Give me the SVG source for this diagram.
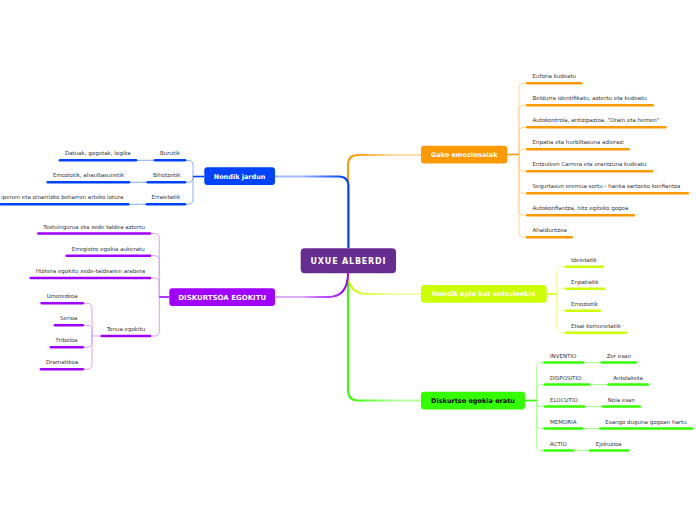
<svg xmlns="http://www.w3.org/2000/svg" width="696" height="520" viewBox="0 0 696 520">
<defs>
<style>
.lbl{font-family:"DejaVu Sans",Verdana,sans-serif;font-size:5.5px;fill:#333}
.nt{font-family:"DejaVu Sans",Verdana,sans-serif;font-weight:bold;font-size:6.5px;fill:#fff;text-anchor:middle}
.bar{fill:none;stroke-width:2.6;stroke-linecap:round}
.ln{fill:none;stroke-width:1}
.stem{fill:none;stroke-width:1.6}
.main{fill:none;stroke-width:2}
.blue{stroke:#0043FF}.lblue{stroke:#8EABFF}
.pur{stroke:#A000FF}.lpur{stroke:#D7A0FF}
.org{stroke:#FF9900}.lorg{stroke:#FFD596}
.yel{stroke:#CCFF00}.lyel{stroke:#EEFF99}
.grn{stroke:#33FF00}.lgrn{stroke:#A8FF8F}
</style>
<linearGradient id="gBlue" gradientUnits="userSpaceOnUse" x1="344" y1="0" x2="300" y2="0"><stop offset="0" stop-color="#0043FF"/><stop offset="1" stop-color="#A4BCFF"/></linearGradient>
<linearGradient id="gPur" gradientUnits="userSpaceOnUse" x1="344" y1="0" x2="300" y2="0"><stop offset="0" stop-color="#A000FF"/><stop offset="1" stop-color="#DDB0FF"/></linearGradient>
<linearGradient id="gOrg" gradientUnits="userSpaceOnUse" x1="352" y1="0" x2="395" y2="0"><stop offset="0" stop-color="#FF9900"/><stop offset="1" stop-color="#FFDCA8"/></linearGradient>
<linearGradient id="gYel" gradientUnits="userSpaceOnUse" x1="350" y1="0" x2="390" y2="0"><stop offset="0" stop-color="#CCFF00"/><stop offset="1" stop-color="#EFFFA8"/></linearGradient>
<linearGradient id="gGrn" gradientUnits="userSpaceOnUse" x1="352" y1="0" x2="395" y2="0"><stop offset="0" stop-color="#33FF00"/><stop offset="1" stop-color="#B4FFA0"/></linearGradient>
</defs>
<rect width="696" height="520" fill="#fff"/>

<g id="connectors">
<!-- main -->
<path class="main" stroke="url(#gOrg)" d="M348 248 V165 Q348 155 358 155 H421"/>
<path class="main" stroke="url(#gBlue)" d="M348.5 248 V186.5 Q348.5 176.5 338.5 176.5 H275"/>
<path class="main" stroke="url(#gGrn)" d="M348 273 V390 Q348 400.5 358 400.5 H421"/>
<path class="main" stroke="url(#gYel)" d="M348 273 Q348 294 368 294 H421"/>
<path class="main" stroke="url(#gPur)" d="M348 273 Q348 297 328 297 H275"/>

<!-- Nondik jardun -->
<g class="ln lblue">
<path d="M193 176.5 V165.3 Q193 160.3 188 160.3 H185"/>
<path d="M193 176.5 V177.3 Q193 182.3 188 182.3 H185"/>
<path d="M193 176.5 V199.3 Q193 204.3 188 204.3 H185"/>
<path d="M155 160.3 H136 M147.7 182.3 H129 M146.7 204.3 H128.3"/>
</g>
<path class="stem blue" d="M204 176.5 H193"/>

<!-- DISKURTSOA -->
<g class="ln lpur">
<path d="M159.3 297 V238.5 Q159.3 233.5 154.3 233.5 H150"/>
<path d="M159.3 297 V260.7 Q159.3 255.7 154.3 255.7 H150"/>
<path d="M159.3 297 V283 Q159.3 278 154.3 278 H150"/>
<path d="M159.3 297 V331 Q159.3 336 154.3 336 H150"/>
<path d="M101.7 336 H92 V308.3 Q92 303.3 87 303.3 H82.7"/>
<path d="M92 336 V330.3 Q92 325.3 87 325.3 H82.7"/>
<path d="M92 336 V342.3 Q92 347.3 87 347.3 H82.7"/>
<path d="M92 336 V364.3 Q92 369.3 87 369.3 H82.7"/>
</g>
<path class="stem pur" d="M169.3 297 H159.3"/>

<!-- Gako -->
<g class="ln lorg">
<path d="M519 154.5 V88.3 Q519 83.3 524 83.3 H527.3"/>
<path d="M519 154.5 V110.3 Q519 105.3 524 105.3 H527.3"/>
<path d="M519 154.5 V132.3 Q519 127.3 524 127.3 H527.3"/>
<path d="M519 154.5 V154.3 Q519 149.3 524 149.3 H527.3"/>
<path d="M519 154.5 V166.3 Q519 171.3 524 171.3 H527.3"/>
<path d="M519 154.5 V188.3 Q519 193.3 524 193.3 H527.3"/>
<path d="M519 154.5 V210.3 Q519 215.3 524 215.3 H527.3"/>
<path d="M519 154.5 V232.3 Q519 237.3 524 237.3 H527.3"/>
</g>
<path class="stem org" d="M507.3 154.5 H519"/>

<!-- Entzule -->
<g class="ln lyel">
<path d="M556.7 294 V271.7 Q556.7 266.7 561.7 266.7 H566"/>
<path d="M556.7 294 V293.7 Q556.7 288.7 561.7 288.7 H566"/>
<path d="M556.7 294 V305.7 Q556.7 310.7 561.7 310.7 H566"/>
<path d="M556.7 294 V327.7 Q556.7 332.7 561.7 332.7 H566"/>
</g>
<path class="stem yel" d="M546.7 294 H556.7"/>

<!-- Eratu -->
<g class="ln lgrn">
<path d="M536.7 400.5 V367.5 Q536.7 362.5 541.7 362.5 H545"/>
<path d="M536.7 400.5 V389.5 Q536.7 384.5 541.7 384.5 H545"/>
<path d="M536.7 400.5 V401.5 Q536.7 406.5 541.7 406.5 H545"/>
<path d="M536.7 400.5 V423.5 Q536.7 428.5 541.7 428.5 H545"/>
<path d="M536.7 400.5 V445.5 Q536.7 450.5 541.7 450.5 H545"/>
<path d="M583 362.5 H601.7 M589 384.5 H608.3 M584 406.5 H602.7 M582.3 428.5 H600.3 M573 450.5 H590"/>
</g>
<path class="stem grn" d="M525 400.5 H536.7"/>
</g>

<g id="center">
<rect x="300.7" y="248.3" width="95.3" height="25" rx="4" fill="#662C90"/>
<text class="nt" x="348.4" y="263.6" style="font-size:8px;letter-spacing:0.8px">UXUE ALBERDI</text>
</g>

<g id="n-jardun">
<rect x="204.3" y="167.3" width="70.7" height="17.7" rx="3" fill="#0043FF"/>
<text class="nt" x="239.6" y="178.5">Nondik jardun</text>
</g>
<g id="n-diskurtsoa">
<rect x="169.3" y="288.3" width="105.7" height="17.7" rx="3" fill="#A000FF"/>
<text class="nt" x="222.2" y="299.6" style="font-size:7px">DISKURTSOA EGOKITU</text>
</g>
<g id="n-gako">
<rect x="421" y="145.7" width="86.3" height="17.7" rx="3" fill="#FF9900"/>
<text class="nt" x="464.2" y="156.8">Gako emozionalak</text>
</g>
<g id="n-entzule">
<rect x="421" y="285" width="125.7" height="17.7" rx="3" fill="#CCFF00"/>
<text class="nt" x="483.8" y="296.1">Nondik egin bat entzuleekin</text>
</g>
<g id="n-eratu">
<rect x="421" y="391.7" width="104" height="17.7" rx="3" fill="#33FF00"/>
<text class="nt" x="473" y="402.8" style="fill:#000">Diskurtso egokia eratu</text>
</g>

<!-- Nondik jardun children -->
<g id="c-burutik"><path class="bar blue" d="M155 160.3 H185"/><text class="lbl" x="160" y="155.3">Burutik</text></g>
<g id="c-bihotzetik"><path class="bar blue" d="M147.7 182.3 H185"/><text class="lbl" x="153" y="177.3">Bihotzetik</text></g>
<g id="c-erraietatik"><path class="bar blue" d="M146.7 204.3 H185"/><text class="lbl" x="151.5" y="199.3">Erraietatik</text></g>
<g id="c-datuak"><path class="bar blue" d="M60 160.3 H136"/><text class="lbl" x="65" y="155.3">Datuak, gogetak, logika</text></g>
<g id="c-emoziotik1"><path class="bar blue" d="M47.7 182.3 H129"/><text class="lbl" x="53" y="177.3">Emoziotik, ahaultasunetik</text></g>
<g id="c-lotura"><path class="bar blue" d="M-2 204.3 H128.3"/><text class="lbl" x="123.3" y="199.3" text-anchor="end">ipenen eta oinarrizko beharren arteko lotura</text></g>

<!-- DISKURTSOA children -->
<g id="c-testuingurua"><path class="bar pur" d="M38.3 233.5 H150"/><text class="lbl" x="43.3" y="228.5">Testuingurua eta xede taldea aztertu</text></g>
<g id="c-erregistro"><path class="bar pur" d="M66.7 255.7 H150"/><text class="lbl" x="71.7" y="250.7">Erregistro egokia aukeratu</text></g>
<g id="c-hizkera"><path class="bar pur" d="M30.7 278 H150"/><text class="lbl" x="35.7" y="273">Hizkera egokitu xede-taldearen arabera</text></g>
<g id="c-tonua"><path class="bar pur" d="M101.7 336 H150"/><text class="lbl" x="106.7" y="331">Tonua egokitu</text></g>
<g id="c-umorezkoa"><path class="bar pur" d="M41.7 303.3 H82.7"/><text class="lbl" x="46.7" y="298.3">Umorezkoa</text></g>
<g id="c-serioa"><path class="bar pur" d="M55 325.3 H82.7"/><text class="lbl" x="60" y="320.3">Serioa</text></g>
<g id="c-friboloa"><path class="bar pur" d="M51 347.3 H82.7"/><text class="lbl" x="56" y="342.3">Friboloa</text></g>
<g id="c-dramatikoa"><path class="bar pur" d="M41 369.3 H82.7"/><text class="lbl" x="46" y="364.3">Dramatikoa</text></g>

<!-- Gako children -->
<g id="c-euforia"><path class="bar org" d="M527.3 83.3 H581.3"/><text class="lbl" x="532.5" y="78.3">Euforia kudeatu</text></g>
<g id="c-beldurra"><path class="bar org" d="M527.3 105.3 H652.7"/><text class="lbl" x="532.5" y="100.3">Beldurra identifikatu, aztertu eta kudeatu</text></g>
<g id="c-autokontrola"><path class="bar org" d="M527.3 127.3 H665.3"/><text class="lbl" x="532.5" y="122.3">Autokontrola, antizipazioa. "Orain eta hemen"</text></g>
<g id="c-enpatia"><path class="bar org" d="M527.3 149.3 H628.7"/><text class="lbl" x="532.5" y="144.3">Enpatia eta hurbiltasuna adierazi</text></g>
<g id="c-entzuleen"><path class="bar org" d="M527.3 171.3 H652"/><text class="lbl" x="532.5" y="166.3">Entzuleen Carrera eta erantzuna kudeatu</text></g>
<g id="c-segurtasun"><path class="bar org" d="M527.3 193.3 H687.7"/><text class="lbl" x="532.5" y="188.3">Segurtasun eremua sortu - hanka sartzeko konfiantza</text></g>
<g id="c-autokonfiantza"><path class="bar org" d="M527.3 215.3 H633.7"/><text class="lbl" x="532.5" y="210.3">Autokonfiantza, hitz egiteko gogoa</text></g>
<g id="c-ahalduntzea"><path class="bar org" d="M527.3 237.3 H571.7"/><text class="lbl" x="532.5" y="232.3">Ahalduntzea</text></g>

<!-- Entzule children -->
<g id="c-ideietatik"><path class="bar yel" d="M566 266.7 H602.7"/><text class="lbl" x="571" y="261.7">Ideietatik</text></g>
<g id="c-enpatiatik"><path class="bar yel" d="M566 288.7 H603.7"/><text class="lbl" x="571" y="283.7">Enpatiatik</text></g>
<g id="c-emoziotik2"><path class="bar yel" d="M566 310.7 H599.7"/><text class="lbl" x="571" y="305.7">Emoziotik</text></g>
<g id="c-etsai"><path class="bar yel" d="M566 332.7 H626"/><text class="lbl" x="571" y="327.7">Etsai komunetatik</text></g>

<!-- Eratu children -->
<g id="c-inventio"><path class="bar grn" d="M545 362.5 H583"/><text class="lbl" x="550" y="357.5">INVENTIO</text></g>
<g id="c-dispositio"><path class="bar grn" d="M545 384.5 H589"/><text class="lbl" x="550" y="379.5">DISPOSITIO</text></g>
<g id="c-elocutio"><path class="bar grn" d="M545 406.5 H584"/><text class="lbl" x="550" y="401.5">ELOCUTIO</text></g>
<g id="c-memoria"><path class="bar grn" d="M545 428.5 H582.3"/><text class="lbl" x="550" y="423.5">MEMORIA</text></g>
<g id="c-actio"><path class="bar grn" d="M545 450.5 H573"/><text class="lbl" x="550" y="445.5">ACTIO</text></g>
<g id="c-zer"><path class="bar grn" d="M601.7 362.5 H635.7"/><text class="lbl" x="606.7" y="357.5">Zer esan</text></g>
<g id="c-antolaketa"><path class="bar grn" d="M608.3 384.5 H647.7"/><text class="lbl" x="613.3" y="379.5">Antolaketa</text></g>
<g id="c-nola"><path class="bar grn" d="M602.7 406.5 H639.7"/><text class="lbl" x="607.7" y="401.5">Nola esan</text></g>
<g id="c-esango"><path class="bar grn" d="M600.3 428.5 H692.3"/><text class="lbl" x="605.3" y="423.5">Esango duguna gogoan hartu</text></g>
<g id="c-ejekuzioa"><path class="bar grn" d="M590 450.5 H628.3"/><text class="lbl" x="595.7" y="445.5">Ejekuzioa</text></g>
</svg>
